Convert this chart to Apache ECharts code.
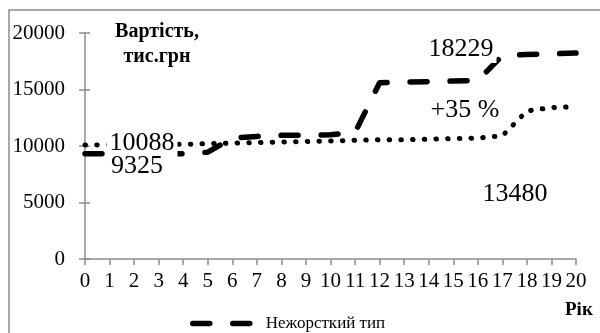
<!DOCTYPE html>
<html>
<head>
<meta charset="utf-8">
<script src="https://cdn.jsdelivr.net/npm/echarts@6/dist/echarts.min.js"></script>
<style>
  html, body { margin: 0; padding: 0; background: #fff; }
  #chart { width: 600px; height: 333px; }
</style>
</head>
<body>
<div id="chart"></div>
<script>
// Роки експлуатації
const years = ['0','1','2','3','4','5','6','7','8','9','10','11','12','13','14','15','16','17','18','19','20'];
// Вартість, тис. грн — нежорсткий тип
const flexible = [9325, 9325, 9325, 9325, 9325, 9450, 10700, 10850, 10950, 10950, 11000, 11200,
                  15600, 15650, 15700, 15750, 15800, 18000, 18100, 18150, 18229];
// Вартість, тис. грн — жорсткий тип
const rigid = [10088, 10100, 10100, 10120, 10150, 10200, 10250, 10300, 10350, 10400, 10450, 10500,
               10550, 10550, 10600, 10650, 10700, 10900, 13100, 13400, 13480];
// Шкала вартості
const yMin = 0, yMax = 20000, yStep = 5000;

const last = years.length - 1;
const diffPct = Math.round((flexible[last] / rigid[last] - 1) * 100);

const FONT = "'Liberation Serif', 'Times New Roman', serif";
const AXIS_GRAY = '#8c8c8c';

const dashedStyle = { color: '#000', width: 5.5, type: [17, 23], cap: 'round', join: 'round' };
const dottedStyle = { color: '#000', width: 5, type: [0.5, 11.2], cap: 'round', join: 'round' };

const valueLabel = {
  show: true,
  position: 'inside',
  fontFamily: FONT,
  fontSize: 26,
  color: '#000',
  backgroundColor: '#fff',
  padding: [1, 3]
};

const chart = echarts.init(document.getElementById('chart'), null, { renderer: 'canvas' });
chart.setOption({
  animation: false,
  backgroundColor: '#fff',
  color: ['#000', '#000'],
  grid: { left: 85, right: 24, top: 33, bottom: 74, containLabel: false },
  xAxis: {
    type: 'category',
    data: years,
    boundaryGap: false,
    axisLine: { lineStyle: { color: AXIS_GRAY, width: 1.5 } },
    axisTick: { show: true, length: 6, interval: 0, lineStyle: { color: AXIS_GRAY, width: 1.5 } },
    axisLabel: { interval: 0, margin: 12, fontFamily: FONT, fontSize: 21, color: '#000' },
    splitLine: { show: false }
  },
  yAxis: [
    {
      type: 'value', min: yMin, max: yMax, interval: yStep,
      axisLine: { show: true, lineStyle: { color: AXIS_GRAY, width: 1.5 } },
      axisTick: { show: true, length: 6, lineStyle: { color: AXIS_GRAY, width: 1.5 } },
      axisLabel: { margin: 20, fontFamily: FONT, fontSize: 21, color: '#000',
                   formatter: v => String(v) },
      splitLine: { show: false }
    },
    {
      type: 'value', min: yMin, max: yMax, interval: yStep, position: 'left', offset: 0,
      axisLine: { show: false },
      axisTick: { show: true, inside: true, length: 5, lineStyle: { color: AXIS_GRAY, width: 1.5 } },
      axisLabel: { show: false },
      splitLine: { show: false }
    }
  ],
  legend: {
    data: ['Нежорсткий тип'],
    left: 185,
    top: 310,
    itemWidth: 63,
    itemHeight: 16,
    itemGap: 20,
    itemStyle: { color: 'rgba(0,0,0,0)', borderWidth: 0 },
    lineStyle: dashedStyle,
    textStyle: { fontFamily: FONT, fontSize: 17, color: '#000', padding: [0, 0, 0, 5] }
  },
  series: [
    {
      name: 'Жорсткий тип',
      type: 'line',
      data: rigid,
      symbol: 'none',
      z: 2,
      lineStyle: dottedStyle,
      markPoint: {
        symbol: 'circle',
        symbolSize: 1,
        itemStyle: { color: 'rgba(0,0,0,0)' },
        data: [
          { coord: [years[0], rigid[0]], value: rigid[0], label: Object.assign({}, valueLabel, { offset: [57, -2] }) },
          { coord: [years[last], rigid[last]], value: rigid[last], label: Object.assign({}, valueLabel, { offset: [-61, 87] }) }
        ]
      }
    },
    {
      name: 'Нежорсткий тип',
      type: 'line',
      data: flexible,
      symbol: 'none',
      z: 3,
      lineStyle: dashedStyle,
      markPoint: {
        symbol: 'circle',
        symbolSize: 1,
        itemStyle: { color: 'rgba(0,0,0,0)' },
        data: [
          { coord: [years[0], flexible[0]], value: flexible[0], label: Object.assign({}, valueLabel, { offset: [52, 13] }) },
          { coord: [years[last], flexible[last]], value: flexible[last], label: Object.assign({}, valueLabel, { offset: [-115, -4] }) },
          { coord: [years[last], flexible[last]], value: diffPct,
            label: Object.assign({}, valueLabel, { offset: [-111, 57], formatter: '+' + diffPct + ' %' }) }
        ]
      }
    }
  ],
  graphic: [
    {
      type: 'rect', silent: true, z: -1,
      shape: { x: 9, y: 10, width: 700, height: 400 },
      style: { fill: 'none', stroke: '#8c8c8c', lineWidth: 1.5 }
    },
    {
      type: 'text', silent: true,
      x: 157, y: 19,
      style: { text: 'Вартість,\nтис.грн', fontFamily: FONT, fontSize: 20, fontWeight: 'bold',
               fill: '#000', lineHeight: 25, align: 'center', verticalAlign: 'top' }
    },
    {
      type: 'text', silent: true,
      x: 565, y: 301,
      style: { text: 'Рік', fontFamily: FONT, fontSize: 19, fontWeight: 'bold', fill: '#000' }
    }
  ]
});
</script>
</body>
</html>
